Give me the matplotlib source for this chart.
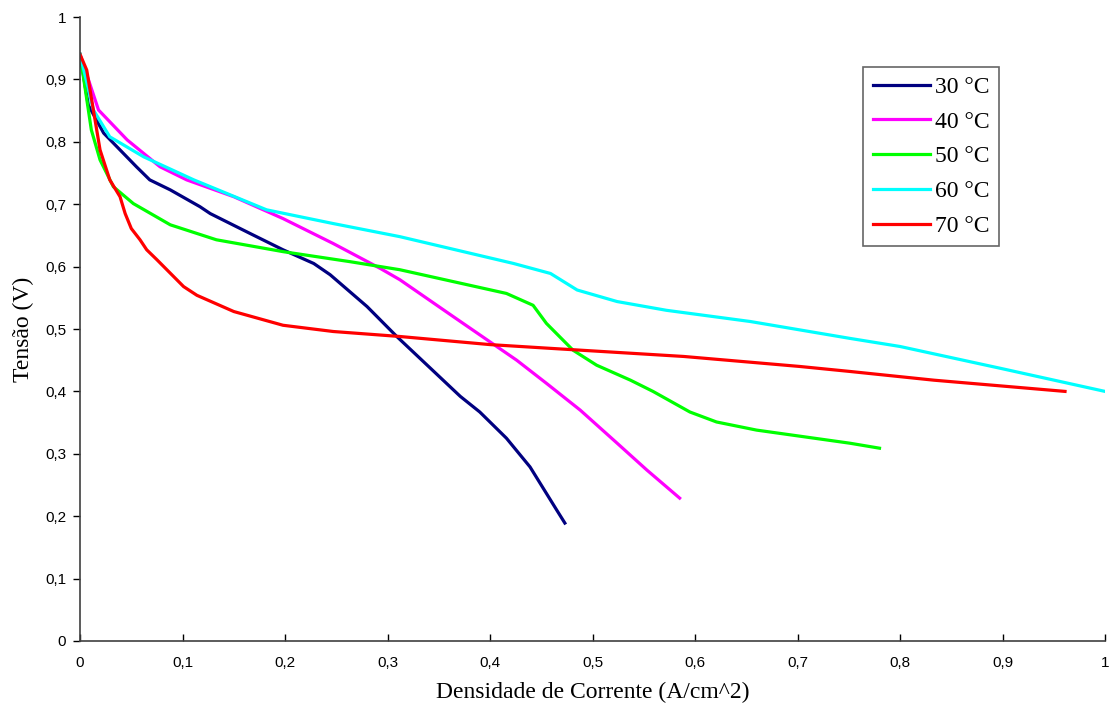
import numpy as np
import matplotlib
matplotlib.use("Agg")
import matplotlib.pyplot as plt

# Densidade de corrente (A/cm^2) e tensão (V) para cada temperatura
j_30 = [0.0, 0.008, 0.023, 0.055, 0.068, 0.088, 0.117, 0.127, 0.166, 0.198, 0.228,
        0.244, 0.280, 0.309, 0.340, 0.371, 0.390, 0.416, 0.439, 0.465, 0.473]
v_30 = [0.94, 0.859, 0.814, 0.760, 0.739, 0.723, 0.696, 0.685, 0.653, 0.627, 0.605,
        0.587, 0.536, 0.488, 0.440, 0.392, 0.367, 0.325, 0.279, 0.210, 0.189]

j_40 = [0.0, 0.018, 0.046, 0.078, 0.104, 0.150, 0.198, 0.247, 0.293, 0.312, 0.364,
        0.426, 0.455, 0.488, 0.524, 0.553, 0.585]
v_40 = [0.94, 0.851, 0.803, 0.760, 0.739, 0.712, 0.677, 0.637, 0.597, 0.579, 0.520,
        0.450, 0.413, 0.370, 0.317, 0.274, 0.229]

j_50 = [0.0, 0.011, 0.0195, 0.0325, 0.052, 0.088, 0.133, 0.198, 0.263, 0.312, 0.416,
        0.442, 0.455, 0.481, 0.504, 0.537, 0.559, 0.595, 0.621, 0.660, 0.751, 0.780]
v_50 = [0.94, 0.819, 0.771, 0.728, 0.701, 0.667, 0.643, 0.624, 0.608, 0.595, 0.557,
        0.538, 0.509, 0.466, 0.442, 0.418, 0.400, 0.367, 0.351, 0.338, 0.317, 0.309]

j_60 = [0.0, 0.013, 0.029, 0.062, 0.111, 0.182, 0.247, 0.312, 0.423, 0.459, 0.485,
        0.524, 0.572, 0.654, 0.751, 0.800, 0.898, 1.0]
v_60 = [0.94, 0.851, 0.808, 0.776, 0.739, 0.691, 0.669, 0.648, 0.605, 0.589, 0.5625,
        0.544, 0.530, 0.512, 0.485, 0.472, 0.437, 0.400]

j_70 = [0.0, 0.0065, 0.013, 0.0195, 0.029, 0.039, 0.044, 0.050, 0.0585, 0.065, 0.075,
        0.101, 0.114, 0.150, 0.198, 0.247, 0.312, 0.400, 0.459, 0.589, 0.702, 0.751,
        0.833, 0.961]
v_70 = [0.94, 0.915, 0.851, 0.787, 0.739, 0.712, 0.685, 0.661, 0.643, 0.627, 0.611,
        0.568, 0.554, 0.528, 0.506, 0.496, 0.488, 0.475, 0.469, 0.456, 0.440, 0.432,
        0.418, 0.400]

series = [
    (j_30, v_30, "30 °C", "#000080"),
    (j_40, v_40, "40 °C", "#ff00ff"),
    (j_50, v_50, "50 °C", "#00ff00"),
    (j_60, v_60, "60 °C", "#00ffff"),
    (j_70, v_70, "70 °C", "#ff0000"),
]

x_ticks = np.round(np.arange(0, 1.01, 0.1), 1)
y_ticks = np.round(np.arange(0, 1.01, 0.1), 1)


def virgula(v):
    return "0" if v == 0 else ("1" if v == 1 else f"{v:.1f}".replace(".", ","))


fig = plt.figure(figsize=(11.12, 7.15), dpi=100)
ax = fig.add_axes([0.072, 0.1035, 0.9217, 0.8727])

for j, v, nome, cor in series:
    ax.plot(j, v, color=cor, linewidth=2.3, label=nome, solid_joinstyle="round")

ax.set_xlim(0, 1)
ax.set_ylim(0, 1)
ax.set_xticks(x_ticks)
ax.set_yticks(y_ticks)
ax.set_xticklabels([virgula(t) for t in x_ticks], fontfamily="Liberation Sans", fontsize=11)
ax.set_yticklabels([virgula(t) for t in y_ticks], fontfamily="Liberation Sans", fontsize=11)
ax.tick_params(axis="x", direction="in", length=5, width=1, pad=11)
ax.tick_params(axis="y", direction="out", length=5, width=1, pad=5)

for lado in ["top", "right"]:
    ax.spines[lado].set_visible(False)
for lado in ["left", "bottom"]:
    ax.spines[lado].set_color("#404040")
    ax.spines[lado].set_linewidth(1.2)

ax.set_xlabel("Densidade de Corrente (A/cm^2)", fontfamily="Liberation Serif",
              fontsize=17, labelpad=8)
ax.set_ylabel("Tensão (V)", fontfamily="Liberation Serif", fontsize=17, labelpad=8)

leg = ax.legend(loc="upper left", bbox_to_anchor=(0.764, 0.920), borderaxespad=0,
                frameon=True, fancybox=False, edgecolor="#404040", handlelength=2.45,
                handletextpad=0.2, labelspacing=0.56, borderpad=0.4,
                prop={"family": "Liberation Serif", "size": 17})
leg.get_frame().set_linewidth(1.2)

fig.savefig("out.png", dpi=100)
plt.close(fig)
